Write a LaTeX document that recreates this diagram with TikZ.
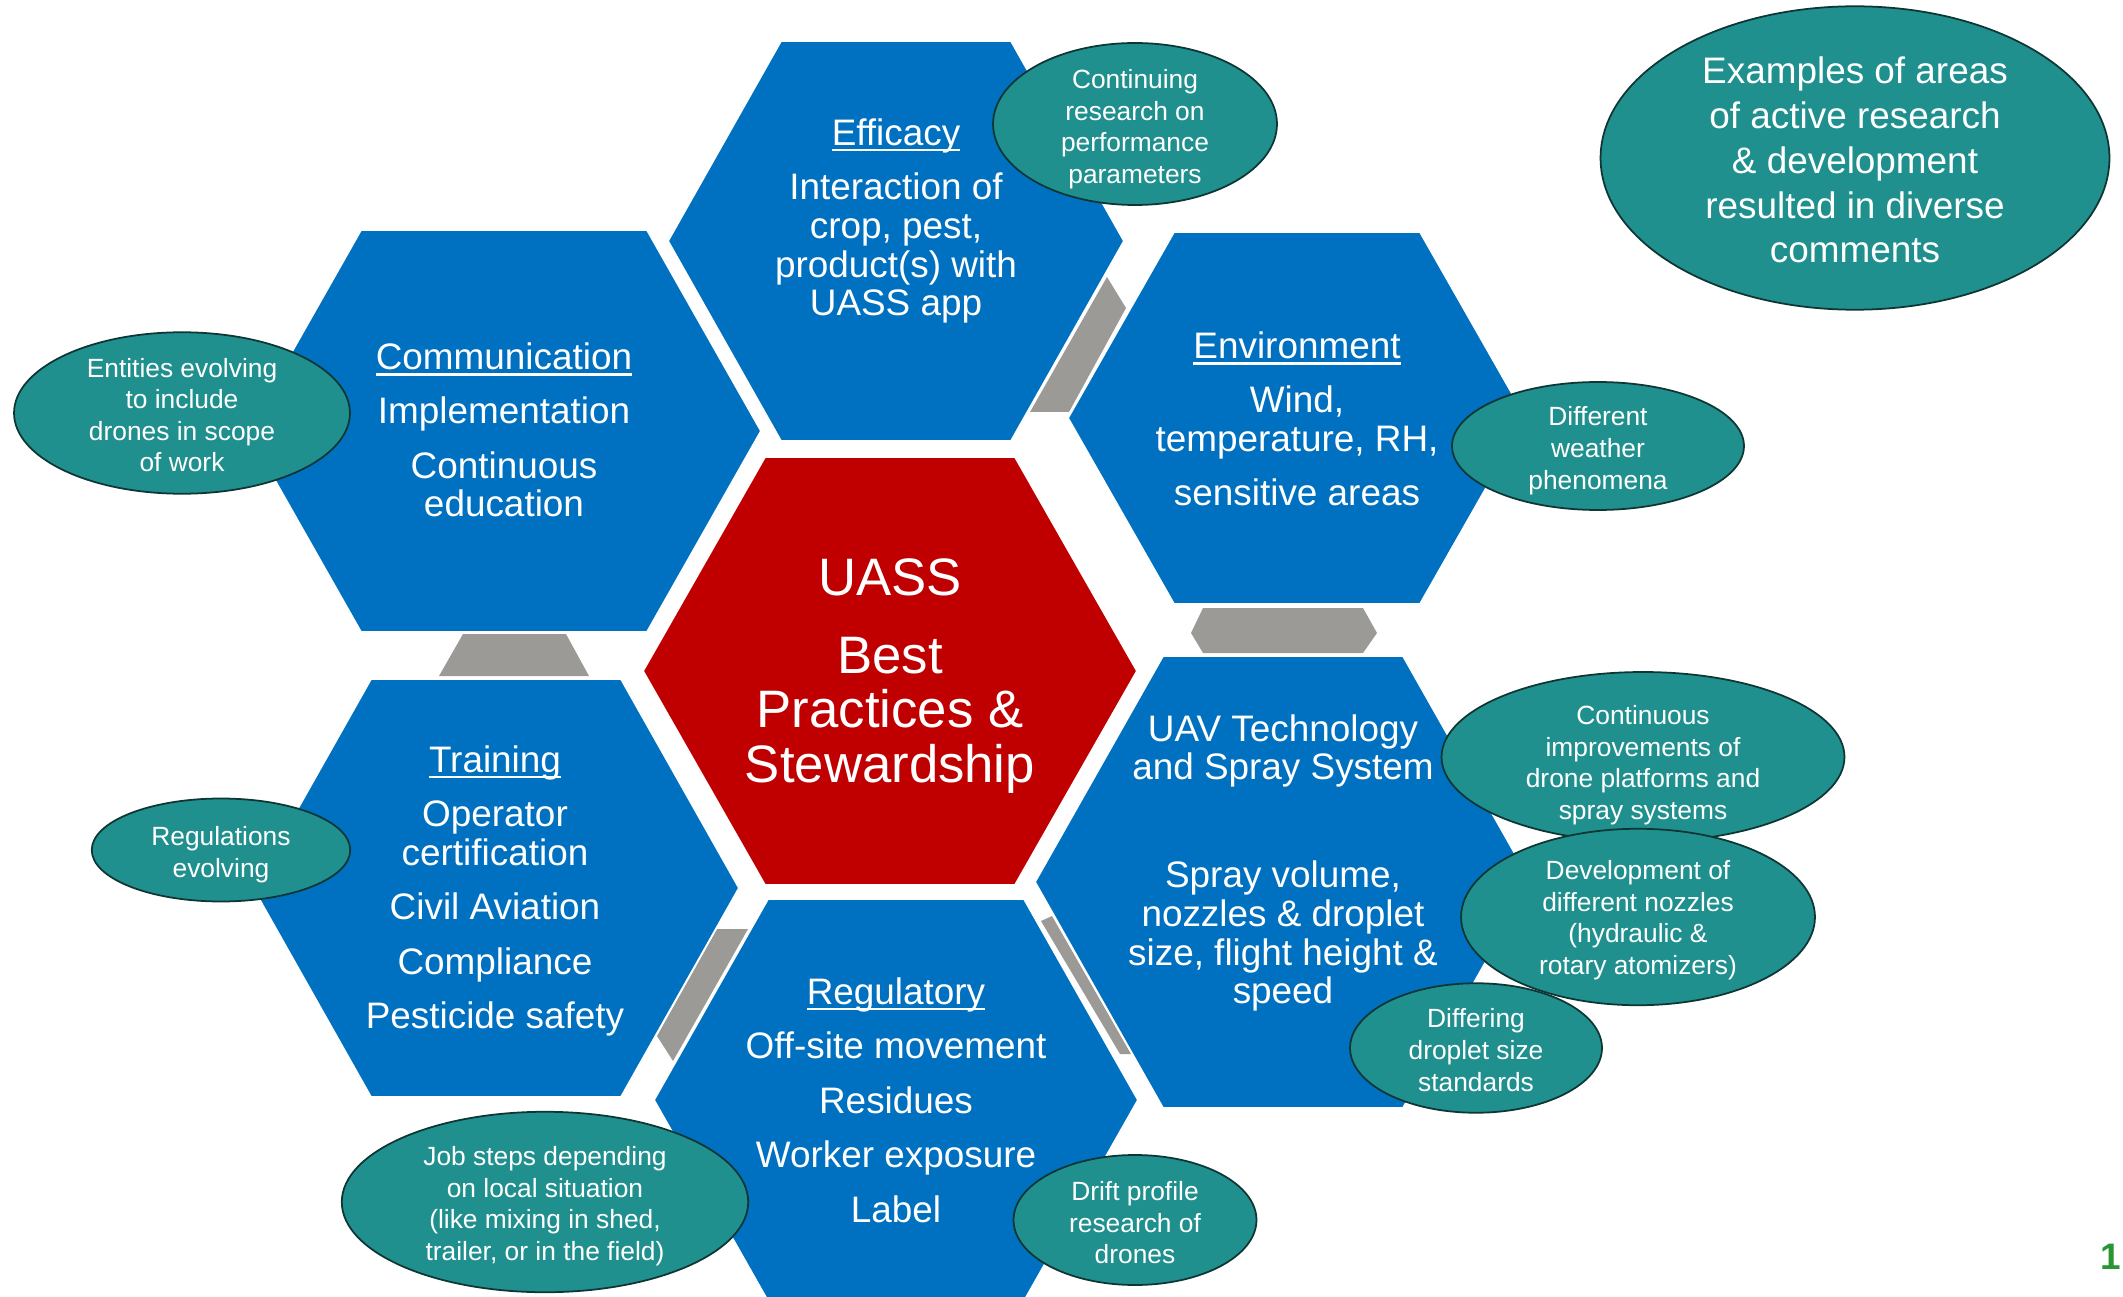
\documentclass[tikz,border=0pt]{standalone}
\usepackage{fontspec}
\setmainfont{Liberation Sans}
\usepackage{tikz}
\usetikzlibrary{shapes.geometric}

\definecolor{hexblue}{RGB}{0,112,192}
\definecolor{hexred}{RGB}{192,0,0}
\definecolor{linkgray}{RGB}{156,154,150}
\definecolor{noteteal}{RGB}{31,144,142}
\definecolor{noteedge}{RGB}{14,54,52}
\definecolor{pagegreen}{RGB}{40,150,50}

\newlength{\headwd}
\newcommand{\heading}[1]{\leavevmode\settowidth{\headwd}{#1}\rlap{\rule[-3.5pt]{\headwd}{1.4pt}}#1}

\tikzset{
	hexcell/.style={fill=hexblue, draw=white, line width=1pt},
	corecell/.style={fill=hexred, draw=white, line width=1pt},
	linkpiece/.style={fill=linkgray},
	hextext/.style={text=white, align=center, font=\fontsize{21}{22}\selectfont},
	note/.style={ellipse, draw=noteedge, line width=1pt, fill=noteteal, inner sep=0pt},
	notetext/.style={text=white, align=center, font=\fontsize{15}{18}\selectfont},
}

\begin{document}
\begin{tikzpicture}[x=0.02cm,y=-0.02cm]

		\useasboundingbox (0,0) rectangle (2123,1297);
		\clip (0,0) rectangle (2123,1297);
		\fill [white] (0,0) rectangle (2123,1297);

		\fill [linkpiece] (1107,277) -- (1126,308) -- (1069,412) -- (1030,412) -- cycle;
		\fill [linkpiece] (1191,633) -- (1203,608) -- (1363,608) -- (1377,633) -- (1363,653) -- (1203,653) -- cycle;
		\fill [linkpiece] (463,634) -- (566,634) -- (589,676) -- (439,676) -- cycle;
		\fill [linkpiece] (717,929) -- (748,929) -- (673,1061) -- (657,1036) -- cycle;
		\fill [linkpiece] (1041,921) -- (1052,916) -- (1131,1054) -- (1120,1054) -- cycle;

		\foreach \xc/\yc/\hw/\tw/\hh in {896/241/228/115/200, 504/431/257/143/201, 1297/418/229/123/186,
				1283/882/248/120/226, 496/888/243/125/209, 896/1100/242/128/201}{
				\filldraw [hexcell] (\xc-\hw,\yc) -- (\xc-\tw,\yc-\hh) -- (\xc+\tw,\yc-\hh) -- (\xc+\hw,\yc)
					-- (\xc+\tw,\yc+\hh) -- (\xc-\tw,\yc+\hh) -- cycle;
			}
		\filldraw [corecell] (643,671) -- (765,457) -- (1015,457) -- (1137,671) -- (1015,885) -- (765,885) -- cycle;

		\node [hextext] (efficacy) at (896,221) {\heading{Efficacy}\\[9pt]Interaction of\\crop, pest,\\product(s) with\\UASS app};
		\node [hextext] (communication) at (504,430) {\heading{Communication}\\[9pt]Implementation\\[9pt]Continuous\\education};
		\node [hextext] (environment) at (1297,419) {\heading{Environment}\\[9pt]Wind,\\temperature, RH,\\[9pt]sensitive areas};
		\node [hextext] (uav) at (1283,863) {UAV Technology\\and Spray System\\[39.5pt]Spray volume,\\nozzles \& droplet\\size, flight height \&\\speed};
		\node [hextext] (training) at (495,891) {\heading{Training}\\[9pt]Operator\\certification\\[9pt]Civil Aviation\\[9pt]Compliance\\[9pt]Pesticide safety};
		\node [hextext] (regulatory) at (896,1100) {\heading{Regulatory}\\[9pt]Off-site movement\\[9pt]Residues\\[9pt]Worker exposure\\[9pt]Label};
		\node [hextext, font=\fontsize{30}{31}\selectfont] (core) at (890,676) {UASS\\[13pt]Best\\Practices \&\\Stewardship};

		\node [note, minimum width=5.68cm, minimum height=3.24cm] (continuing) at (1135,124) {};
		\node [notetext] (continuing-t) at ([yshift=-3pt]continuing) {Continuing\\research on\\performance\\parameters};
		\node [note, minimum width=6.72cm, minimum height=3.23cm] (entities) at (182,413) {};
		\node [notetext] (entities-t) at ([yshift=-1.2pt]entities) {Entities evolving\\to include\\drones in scope\\of work};
		\node [note, minimum width=5.84cm, minimum height=2.56cm] (weather) at (1598,446) {};
		\node [notetext] (weather-t) at ([yshift=-2.7pt]weather) {Different\\weather\\phenomena};
		\node [note, minimum width=8.06cm, minimum height=3.40cm] (platforms) at (1643,757) {};
		\node [notetext] (platforms-t) at ([yshift=-4.6pt]platforms) {Continuous\\improvements of\\drone platforms and\\spray systems};
		\node [note, minimum width=7.08cm, minimum height=3.53cm] (nozzles) at (1638,917) {};
		\node [notetext] (nozzles-t) at ([yshift=-1.9pt]nozzles) {Development of\\different nozzles\\(hydraulic \&\\rotary atomizers)};
		\node [note, minimum width=5.04cm, minimum height=2.59cm] (standards) at (1476,1048) {};
		\node [notetext] (standards-t) at ([yshift=-1.2pt]standards) {Differing\\droplet size\\standards};
		\node [note, minimum width=5.17cm, minimum height=2.06cm] (regulations) at (221,850) {};
		\node [notetext] (regulations-t) at ([yshift=-2.7pt]regulations) {Regulations\\evolving};
		\node [note, minimum width=8.13cm, minimum height=3.61cm] (jobsteps) at (545,1202) {};
		\node [notetext] (jobsteps-t) at ([yshift=-2.3pt]jobsteps) {Job steps depending\\on local situation\\(like mixing in shed,\\trailer, or in the field)};
		\node [note, minimum width=4.86cm, minimum height=2.60cm] (drift) at (1135,1220) {};
		\node [notetext] (drift-t) at ([yshift=-1.5pt]drift) {Drift profile\\research of\\drones};
		\node [note, minimum width=10.18cm, minimum height=6.07cm] (examples) at (1855,158) {};
		\node [notetext, font=\fontsize{21}{25.5}\selectfont] (examples-t) at ([yshift=-1.2pt]examples)
			{Examples of areas\\of active research\\\& development\\resulted in diverse\\comments};

		\node [text=pagegreen, font=\bfseries\fontsize{21}{22}\selectfont] (pagenum) at (2111,1257) {1};

\end{tikzpicture}
\end{document}
